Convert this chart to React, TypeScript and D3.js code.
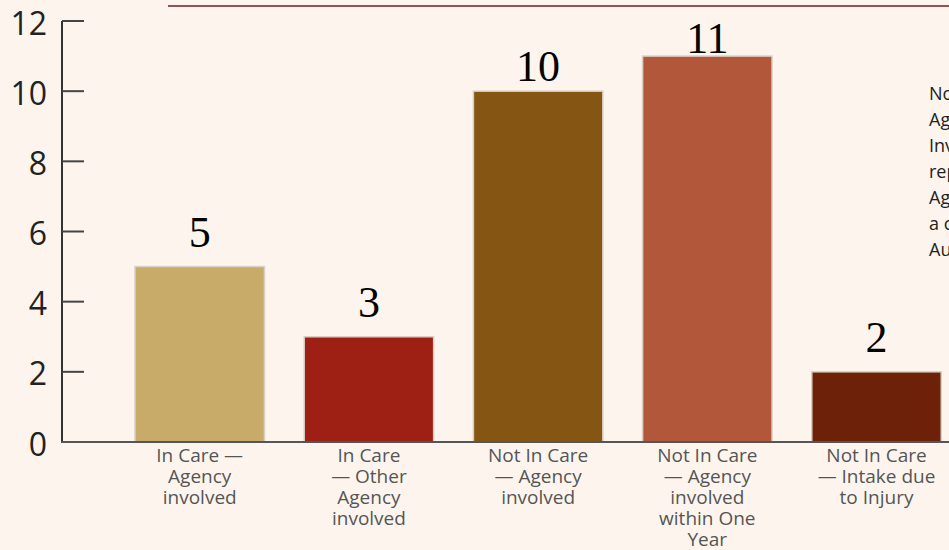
import React from "react";
import * as d3 from "d3";

const categories = [
  ["In Care —", "Agency", "involved"],
  ["In Care", "— Other", "Agency", "involved"],
  ["Not In Care", "— Agency", "involved"],
  ["Not In Care", "— Agency", "involved", "within One", "Year"],
  ["Not In Care", "— Intake due", "to Injury"],
];
const values = [5, 3, 10, 11, 2];
const colors = ["#c8aa69", "#9e2014", "#855613", "#b3573b", "#6c2108"];
const yTicks = [0, 2, 4, 6, 8, 10, 12];
const sideNote = ["No", "Agency", "Involvement", "reported", "Agency", "a case", "August"];

const W = 949;
const H = 550;

export default function App() {
  const ids = categories.map((_, i) => String(i));
  const pad = 0.235;
  const step = 169.2;
  const x = d3.scaleBand().domain(ids).range([135, 135 + (5 - pad) * step]).paddingInner(pad).paddingOuter(0);
  const y = d3.scaleLinear().domain([0, 12]).range([442, 21]);
  const labelY = (v: number) => {
    const off = Math.min(20, 3 + (y(v) - y(11)) * 0.2);
    return y(v) - off;
  };
  return (
    <svg width={W} height={H} style={{ position: "absolute", left: 0, top: 0, background: "#fdf5ed" }}>
      <rect x={0} y={0} width={W} height={H} fill="#fdf5ed" />
      <line x1={168} x2={W} y1={6} y2={6} stroke="#6b1f1f" strokeWidth={1.5} />
      {values.map((v, i) => (
        <rect
          key={i}
          x={x(String(i))!}
          y={y(v)}
          width={x.bandwidth()}
          height={y(0) - y(v)}
          fill={colors[i]}
          stroke="#d9cfc4"
          strokeWidth={1.5}
        />
      ))}
      {values.map((v, i) => (
        <text
          key={i}
          x={x(String(i))! + x.bandwidth() / 2}
          y={labelY(v)}
          textAnchor="middle"
          fontFamily="'Liberation Serif', 'DejaVu Serif', serif"
          fontSize={44}
          fill="#000"
        >
          {v}
        </text>
      ))}
      <line x1={62} x2={62} y1={y(12)} y2={y(0)} stroke="#333" strokeWidth={2} />
      {yTicks.map((t) => (
        <g key={t}>
          <line x1={62} x2={84} y1={y(t)} y2={y(t)} stroke="#444" strokeWidth={2} />
          <text
            x={47}
            y={y(t) + 2}
            dy="0.36em"
            textAnchor="end"
            fontFamily="'Open Sans', sans-serif"
            fontSize={32}
            fill="#222"
          >
            {t}
          </text>
        </g>
      ))}
      <line x1={61} x2={W} y1={y(0)} y2={y(0)} stroke="#555" strokeWidth={2} />
      {categories.map((lines, i) => (
        <text
          key={i}
          x={x(String(i))! + x.bandwidth() / 2}
          y={462}
          textAnchor="middle"
          fontFamily="'Open Sans', sans-serif"
          fontSize={19}
          fill="#555"
        >
          {lines.map((l, j) => (
            <tspan key={j} x={x(String(i))! + x.bandwidth() / 2} dy={j === 0 ? 0 : 21}>
              {l}
            </tspan>
          ))}
        </text>
      ))}
      <text x={929} y={100} fontFamily="'Open Sans', sans-serif" fontSize={18} fill="#222">
        {sideNote.map((l, j) => (
          <tspan key={j} x={929} dy={j === 0 ? 0 : 26}>
            {l}
          </tspan>
        ))}
      </text>
    </svg>
  );
}
